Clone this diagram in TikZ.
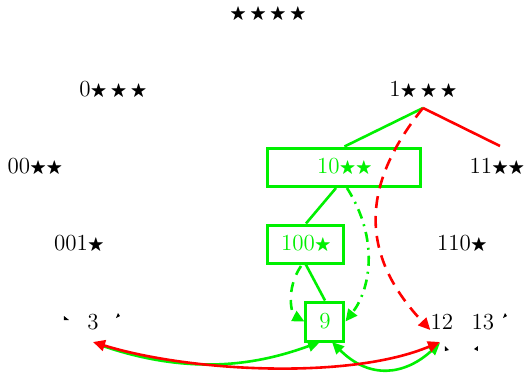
\documentclass[tikz,border=0pt]{standalone}
\usepackage{amssymb}
\usepackage{graphicx}
\usetikzlibrary{arrows.meta}
\definecolor{tgreen}{RGB}{0,240,0}
\definecolor{tred}{RGB}{255,0,0}
\newcommand{\st}{\raisebox{0.3pt}{\scalebox{0.74}{$\bigstar$}}}
\tikzset{
  lbl/.style={inner sep=0pt, font=\fontsize{11.5}{13}\selectfont},
  gbox/.style={lbl, draw=tgreen, line width=1.5pt, text=tgreen},
  gl/.style={draw=tgreen, line width=1.3pt},
  rl/.style={draw=tred, line width=1.3pt},
  tip/.style={-{Triangle[length=6pt,width=5.5pt]}},
  dtip/.style={{Triangle[length=6pt,width=5.5pt]}-{Triangle[length=6pt,width=5.5pt]}},
  tick/.style={fill=black, draw=none}
}
\begin{document}
\begin{tikzpicture}[x=0.5pt,y=-0.5pt]
\useasboundingbox (0,0) rectangle (527,372);
% labels
\node[lbl] (root) at (268,14) {\st\,\st\,\st\,\st};
\node[lbl] (n0) at (113,90) {0\st\,\st\,\st};
\node[lbl] (n1) at (423,90) {1\st\,\st\,\st};
\node[lbl] (n00) at (35,167) {00\st\st};
\node[gbox, minimum width=76.5pt, minimum height=19pt] (n10) at (344.5,167) {10\st\st};
\node[lbl] (n11) at (497,167) {11\st\st};
\node[lbl] (n001) at (79,244) {001\st};
\node[gbox, minimum width=38pt, minimum height=19pt] (n100) at (306,244) {100\st};
\node[lbl] (n110) at (462,244) {110\st};
\node[lbl] (n3) at (93,322) {3};
\node[gbox, minimum width=19pt, minimum height=19.5pt] (n9) at (325,321.5) {9};
\node[lbl] (n12) at (442,322) {12};
\node[lbl] (n13) at (483,322) {13};
\coordinate (c1) at (423,108);
\coordinate (c11) at (500,146);
% tree edges
\draw[gl] (n10.north) -- (c1);
\draw[rl] (c1) -- (c11);
\draw[gl] (336,188) -- (n100.north);
\draw[gl] (305,263) -- (n9.north);
% dashed curves
\draw[rl, dashed, dash pattern=on 6pt off 4pt, tip] (c1) .. controls (365,180) and (355,250) .. (n12.south west);
\draw[gl, dash pattern=on 5pt off 3pt on 1pt off 3pt, tip] (347,188) .. controls (380,240) and (370,290) .. (n9.east);
\draw[gl, dashed, dash pattern=on 5pt off 4pt, tip] (301,266) .. controls (285,290) and (292,315) .. (n9.west);
% bottom arcs
\draw[gl, tip] (100,345) .. controls (200,380) and (270,360) .. (320,342);
\draw[gl, dtip] (332,342) .. controls (370,380) and (405,375) .. (440,343);
\draw[rl, dtip] (440,342) .. controls (350,380) and (190,372) .. (93,342);
% tiny ticks
\fill[tick] (64,316) -- (69,320) -- (64,320) -- cycle;
\fill[tick] (118,313) -- (120,316) -- (116,318) -- cycle;
\fill[tick] (445,346) -- (449,350) -- (445,351) -- cycle;
\fill[tick] (478,346) -- (478,351) -- (474,349) -- cycle;
\fill[tick] (505,313) -- (507,316) -- (503,318) -- cycle;
\end{tikzpicture}
\end{document}
